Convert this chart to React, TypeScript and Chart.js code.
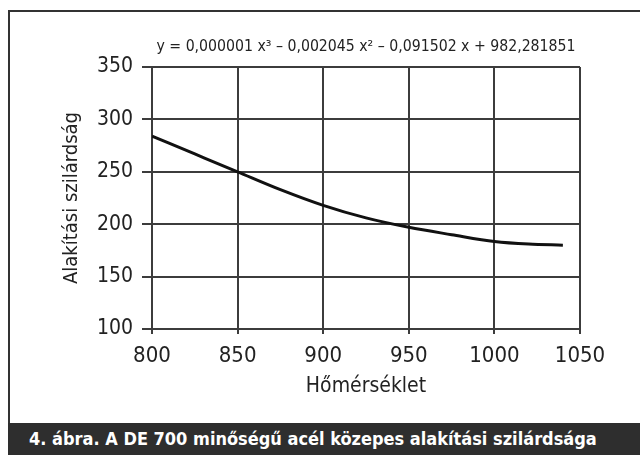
import React, { useEffect, useRef } from "react";
import { Chart, registerables } from "chart.js";

Chart.register(...registerables);

const temperatures = [800, 825, 850, 875, 900, 925, 950, 975, 1000, 1020, 1040];
const strength = [284, 267, 250, 233, 218, 206, 197, 190, 183.5, 181, 180];
const xTicks = [800, 850, 900, 950, 1000, 1050];
const yTicks = [100, 150, 200, 250, 300, 350];
const equationText = "y = 0,000001 x³ – 0,002045 x² – 0,091502 x + 982,281851";
const xTitle = "Hőmérséklet";
const yTitle = "Alakítási szilárdság";
const captionText = "4. ábra. A DE 700 minőségű acél közepes alakítási szilárdsága";

const FONT = "'DejaVu Sans Condensed', 'Liberation Sans Narrow', sans-serif";

export default function App() {
  const ref = useRef<HTMLCanvasElement | null>(null);

  useEffect(() => {
    if (!ref.current) return;
    const equationPlugin = {
      id: "equation",
      afterDraw(chart: any) {
        const { ctx, chartArea } = chart;
        ctx.save();
        ctx.font = `15.7px ${FONT}`;
        ctx.fillStyle = "#222";
        ctx.textAlign = "center";
        ctx.textBaseline = "middle";
        ctx.fillText(equationText, (chartArea.left + chartArea.right) / 2, chartArea.top - 20);
        ctx.restore();
      },
    };
    const chart = new Chart(ref.current, {
      type: "line",
      data: {
        datasets: [
          {
            data: temperatures.map((t, i) => ({ x: t, y: strength[i] })),
            borderColor: "#111",
            borderWidth: 3,
            pointRadius: 0,
            cubicInterpolationMode: "monotone",
            fill: false,
          },
        ],
      },
      options: {
        animation: false,
        responsive: false,
        maintainAspectRatio: false,
        layout: { padding: { left: 0, top: 67, right: 60, bottom: 24 } },
        plugins: { legend: { display: false }, tooltip: { enabled: false } },
        scales: {
          x: {
            type: "linear",
            min: xTicks[0],
            max: xTicks[xTicks.length - 1],
            afterBuildTicks: (s: any) => {
              s.ticks = xTicks.map((v) => ({ value: v }));
            },
            afterFit: (s: any) => {
              s.height = 70;
            },
            ticks: {
              color: "#222",
              font: { family: FONT, size: 22 },
              padding: 9,
              maxRotation: 0,
              callback: (v: any) => String(v),
            },
            grid: { color: "#3c3c3c", lineWidth: 2, tickLength: 5, drawTicks: true },
            border: { color: "#3c3c3c", width: 2 },
            title: {
              display: true,
              text: xTitle,
              color: "#222",
              font: { family: FONT, size: 21 },
              padding: { top: 0, bottom: 0 },
            },
          },
          y: {
            type: "linear",
            min: yTicks[0],
            max: yTicks[yTicks.length - 1],
            afterBuildTicks: (s: any) => {
              s.ticks = yTicks.map((v) => ({ value: v }));
            },
            afterFit: (s: any) => {
              s.width = 152;
            },
            ticks: { color: "#222", font: { family: FONT, size: 21 }, padding: 9, callback: (v: any) => String(v) },
            grid: { color: "#3c3c3c", lineWidth: 2, tickLength: 10, drawTicks: true },
            border: { color: "#3c3c3c", width: 2 },
            title: {
              display: true,
              text: yTitle,
              color: "#222",
              font: { family: FONT, size: 20 },
              padding: { top: 60, bottom: 0 },
            },
          },
        },
      },
      plugins: [equationPlugin],
    } as any);
    return () => chart.destroy();
  }, []);

  return (
    <div
      style={{
        position: "fixed",
        left: 0,
        top: 0,
        width: 640,
        height: 455,
        background: "#fff",
        overflow: "hidden",
      }}
    >
      <div
        style={{
          position: "absolute",
          left: 8,
          top: 10,
          width: 640,
          height: 413,
          borderLeft: "2px solid #333",
          borderTop: "2px solid #333",
          boxSizing: "border-box",
        }}
      />
      <canvas
        ref={ref}
        width={640}
        height={423}
        style={{ position: "absolute", left: 0, top: 0, width: 640, height: 423 }}
      />
      <div
        style={{
          position: "absolute",
          left: 8,
          top: 423,
          width: 632,
          height: 32,
          background: "#2e2e2e",
          color: "#fff",
          fontFamily: FONT,
          fontWeight: "bold",
          fontSize: 18,
          lineHeight: "32px",
          paddingLeft: 21,
          boxSizing: "border-box",
          whiteSpace: "nowrap",
        }}
      >
        {captionText}
      </div>
    </div>
  );
}
